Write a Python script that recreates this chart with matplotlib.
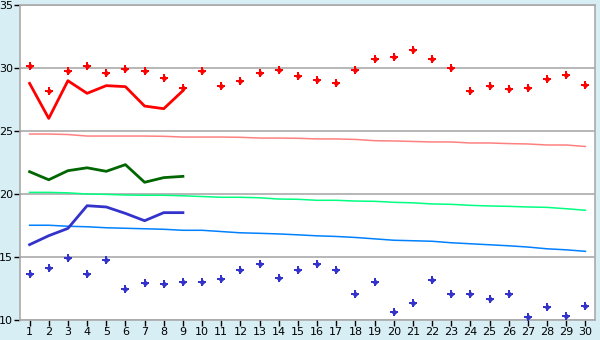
import matplotlib
matplotlib.use("Agg")
import matplotlib.pyplot as plt
import numpy as np

days = np.arange(1, 31)

# daily maximum / minimum readings (points)
max_points = [30.13, 28.17, 29.8, 30.13, 29.6, 29.9, 29.74, 29.18, 28.4, 29.74,
              28.55, 28.94, 29.58, 29.82, 29.34, 29.02, 28.78, 29.82, 30.69, 30.85,
              31.4, 30.69, 29.97, 28.15, 28.55, 28.3, 28.4, 29.1, 29.42, 28.63]
min_points = [13.62, 14.1, 14.9, 13.62, 14.74, 12.5, 12.9, 12.83, 12.99, 12.99,
              13.23, 13.94, 14.42, 13.31, 13.94, 14.42, 13.94, 12.04, 12.99, 10.61,
              11.32, 13.15, 12.04, 12.04, 11.64, 12.04, 10.21, 11.01, 10.29, 11.09]

# current month lines (first 9 days)
cur_days = np.arange(1, 10)
cur_max = [28.78, 26.0, 28.99, 27.99, 28.6, 28.52, 26.98, 26.77, 28.2]
cur_mean = [21.77, 21.13, 21.85, 22.08, 21.8, 22.33, 20.93, 21.3, 21.4]
cur_min = [15.98, 16.69, 17.27, 19.07, 18.97, 18.46, 17.88, 18.52, 18.52]

# normals
norm_max = [24.76, 24.76, 24.72, 24.60, 24.60, 24.60, 24.60, 24.58, 24.52, 24.52,
            24.52, 24.50, 24.44, 24.44, 24.42, 24.37, 24.37, 24.33, 24.23, 24.21,
            24.17, 24.13, 24.13, 24.05, 24.05, 24.0, 23.97, 23.89, 23.89, 23.77]
norm_mean = [20.13, 20.13, 20.09, 20.0, 19.97, 19.92, 19.90, 19.90, 19.86, 19.8,
             19.74, 19.74, 19.70, 19.60, 19.58, 19.50, 19.50, 19.44, 19.42, 19.34,
             19.30, 19.21, 19.18, 19.10, 19.05, 19.02, 18.97, 18.94, 18.83, 18.71]
norm_min = [17.52, 17.52, 17.44, 17.40, 17.32, 17.28, 17.24, 17.20, 17.12, 17.12,
            17.02, 16.92, 16.88, 16.83, 16.76, 16.68, 16.63, 16.55, 16.44, 16.33,
            16.29, 16.25, 16.13, 16.05, 15.97, 15.89, 15.79, 15.65, 15.57, 15.45]

fig = plt.figure(figsize=(6, 3.4), dpi=100)
fig.patch.set_facecolor('#d8eef5')
ax = fig.add_axes([20/600, 20/340, 575/600, 315/340])
ax.set_facecolor('white')

ax.plot(days, norm_max, color='#ff8080', lw=1.1, zorder=2)
ax.plot(days, norm_mean, color='#00ff80', lw=1.1, zorder=2)
ax.plot(days, norm_min, color='#0080ff', lw=1.1, zorder=2)

ax.plot(cur_days, cur_max, color='#ff0000', lw=2, zorder=3)
ax.plot(cur_days, cur_mean, color='#006600', lw=2, zorder=3)
ax.plot(cur_days, cur_min, color='#3333cc', lw=2, zorder=3)

# filled plus + small diamond gives the chunky point shape
for vals, col in [(max_points, '#ff0000'), (min_points, '#3333cc')]:
    ax.plot(days, vals, 'P', color=col, ms=5.4, mew=0, ls='none', zorder=4)
    ax.plot(days, vals, 'D', color=col, ms=3.2, mew=0, ls='none', zorder=4)

ax.set_xlim(0.5, 30.5)
ax.set_ylim(10, 35)
ax.set_xticks(days)
ax.set_yticks([10, 15, 20, 25, 30, 35])
ax.grid(axis='y', color='#aaaaaa', lw=1.2, zorder=1)
for s in ax.spines.values():
    s.set_color('#aaaaaa')
    s.set_linewidth(1.2)
ax.tick_params(axis='both', labelsize=8, length=4, width=1, color='black', pad=1)

fig.savefig('out.png', dpi=100, facecolor=fig.get_facecolor())
